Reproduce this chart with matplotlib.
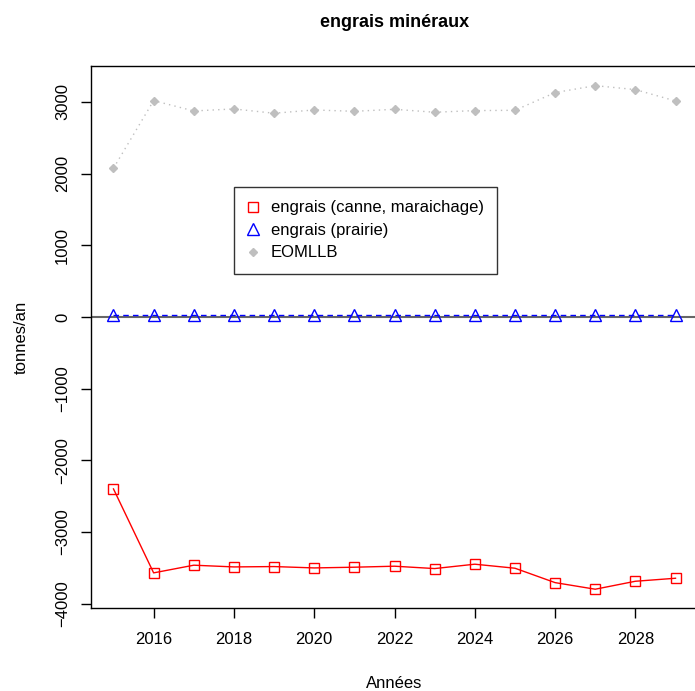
import matplotlib
matplotlib.use("Agg")
import matplotlib.pyplot as plt

plt.rcParams['font.family'] = ['Liberation Sans', 'DejaVu Sans']

annees = list(range(2015, 2030))
canne = [-2399, -3570, -3463, -3487, -3482, -3501, -3491, -3477, -3510, -3449,
         -3505, -3706, -3798, -3687, -3645]
prairie = [20] * 15
eomllb = [2074, 3017, 2873, 2901, 2841, 2887, 2868, 2896, 2855, 2878,
          2882, 3129, 3226, 3171, 3012]
xticks = [2016, 2018, 2020, 2022, 2024, 2026, 2028]
yticks = [-4000, -3000, -2000, -1000, 0, 1000, 2000, 3000]

fig = plt.figure(figsize=(6.95, 6.91), dpi=100)
ax = fig.add_axes([91 / 695, 1 - 608 / 691, 607 / 695, 542 / 691])

ax.axhline(0, color='#666666', lw=1.5, zorder=1)
a = ax.plot(annees, canne, color='red', lw=1, marker='s', ms=7, mfc='none',
            mec='red', mew=1, label='engrais (canne, maraichage)')
b = ax.plot(annees, prairie, color='blue', lw=1, ls=(0, (4, 3)), marker='^',
            ms=8, mfc='none', mec='blue', mew=1, label='engrais (prairie)')
c = ax.plot(annees, eomllb, color='#bfbfbf', lw=1, ls=(0, (1, 3)), marker='D',
            ms=4.5, mec='#bfbfbf', mfc='#bfbfbf', label='EOMLLB')

ax.set_xlim(2014.44, 2029.56)
ax.set_ylim(-4060, 3500)
ax.set_xticks(xticks)
ax.set_yticks(yticks)
ax.set_yticklabels([str(v).replace('-', '\u2212') for v in yticks],
                   rotation=90, va='center')
ax.tick_params(labelsize=12, length=7, width=1)
ax.tick_params(axis='x', pad=10)
ax.tick_params(axis='y', pad=8)
for s in ax.spines.values():
    s.set_linewidth(1)

ax.set_title('engrais minéraux', fontsize=13, fontweight='bold', pad=28)
ax.set_xlabel('Années', fontsize=12, labelpad=21)
ax.set_ylabel('tonnes/an', fontsize=12, labelpad=19)

leg = ax.legend(loc='upper left', bbox_to_anchor=(143 / 607, 1 - 121 / 542),
                fontsize=12, frameon=True, fancybox=False, edgecolor='black',
                borderpad=0.8, labelspacing=0.45, handlelength=0.7,
                handletextpad=0.7, borderaxespad=0)
leg.get_frame().set_linewidth(1)
for h in leg.get_lines():
    h.set_linestyle('none')

fig.savefig('out.png', dpi=100)
